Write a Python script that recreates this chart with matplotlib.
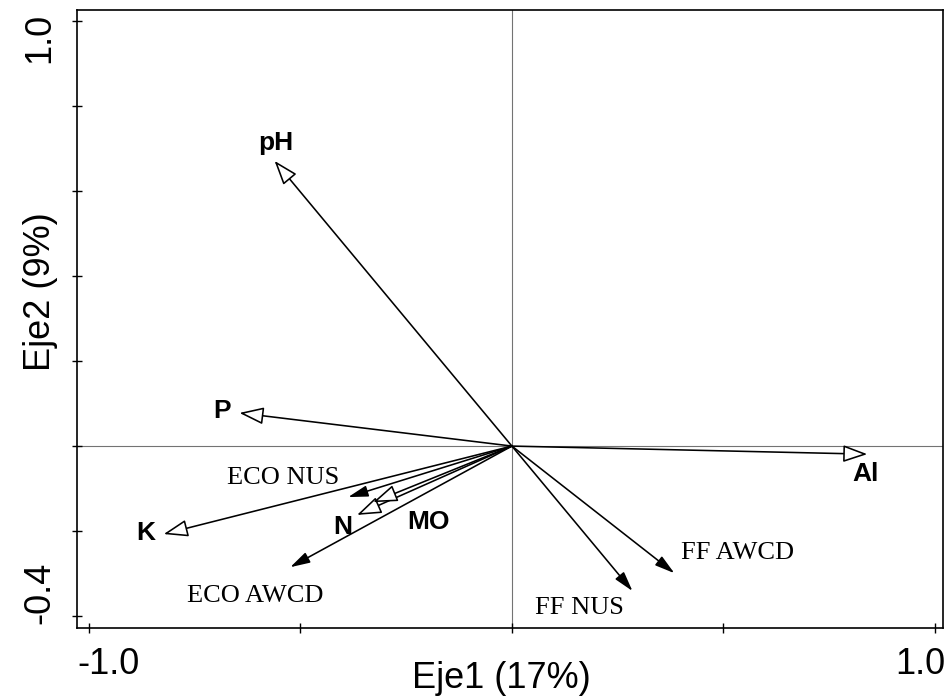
import matplotlib
matplotlib.use("Agg")
import matplotlib.pyplot as plt
from matplotlib.transforms import ScaledTranslation

# environmental variables (hollow heads)
env_names = ['pH', 'P', 'K', 'N', 'MO', 'Al']
env_x = [-0.561, -0.644, -0.823, -0.366, -0.328, 0.840]
env_y = [0.671, 0.078, -0.207, -0.162, -0.132, -0.019]

# response variables (filled heads)
resp_names = ['ECO NUS', 'ECO AWCD', 'FF AWCD', 'FF NUS']
resp_x = [-0.387, -0.524, 0.384, 0.285]
resp_y = [-0.120, -0.285, -0.299, -0.341]

x_ticks = [-1.0, -0.5, 0.0, 0.5, 1.0]
x_ticklabels = ['-1.0', '', '', '', '1.0']
y_ticks = [-0.4, -0.2, 0.0, 0.2, 0.4, 0.6, 0.8, 1.0]
y_ticklabels = ['-0.4', '', '', '', '', '', '', '1.0']

# label offsets from the arrow tip, in pixels
env_offsets = {'pH': (1, 18), 'P': (-17, 2), 'K': (-18, 1), 'N': (-14, -12),
               'MO': (55, -20), 'Al': (-2, -20)}
resp_offsets = {'ECO NUS': (-65, 19), 'ECO AWCD': (-35, -29),
                'FF AWCD': (63, 20), 'FF NUS': (-53, -17)}

SANS = 'Liberation Sans'
SERIF = 'Liberation Serif'
plt.rcParams['font.family'] = SANS

fig = plt.figure(figsize=(9.51, 6.97), dpi=100)
ax = fig.add_axes([77 / 951, 1 - 628 / 697, 866 / 951, 618 / 697])
ax.set_xlim(-1.028, 1.019)
ax.set_ylim(-0.428, 1.026)

ax.axhline(0, color='0.45', lw=0.8, zorder=1)
ax.axvline(0, color='0.45', lw=0.8, zorder=1)

for name, x, y in zip(env_names, env_x, env_y):
    ax.annotate('', xy=(x, y), xytext=(0, 0),
                arrowprops=dict(arrowstyle='-|>,head_length=15,head_width=5.3',
                                mutation_scale=1, shrinkA=0, shrinkB=0,
                                lw=1.15, edgecolor='black', facecolor='white'),
                zorder=3)
    ax.annotate(name, xy=(x, y), xytext=env_offsets[name],
                textcoords='offset pixels', ha='center', va='center',
                fontsize=19, fontweight='bold', family=SANS, zorder=4)

for name, x, y in zip(resp_names, resp_x, resp_y):
    ax.annotate('', xy=(x, y), xytext=(0, 0),
                arrowprops=dict(arrowstyle='-|>,head_length=12,head_width=3.4',
                                mutation_scale=1, shrinkA=0, shrinkB=0,
                                lw=1.15, edgecolor='black', facecolor='black'),
                zorder=3)
    ax.annotate(name, xy=(x, y), xytext=resp_offsets[name],
                textcoords='offset pixels', ha='center', va='center',
                fontsize=19, family=SERIF, zorder=4)

ax.set_xticks(x_ticks, x_ticklabels)
ax.set_yticks(y_ticks, y_ticklabels)
ax.tick_params(direction='inout', length=7.2, width=1.0, labelsize=26)
ax.tick_params(axis='x', pad=10)
ax.tick_params(axis='y', pad=10.8)

for s in ax.spines.values():
    s.set_linewidth(1.2)

xl = ax.get_xticklabels()
xl[0].set_ha('left')
xl[0].set_transform(xl[0].get_transform() + ScaledTranslation(-11 / 100, 0, fig.dpi_scale_trans))
xl[-1].set_ha('right')
xl[-1].set_transform(xl[-1].get_transform() + ScaledTranslation(10 / 100, 0, fig.dpi_scale_trans))

yl = ax.get_yticklabels()
for lab in yl:
    lab.set_rotation(90)
yl[-1].set_va('top')
yl[-1].set_transform(yl[-1].get_transform() + ScaledTranslation(0, 8 / 100, fig.dpi_scale_trans))
yl[0].set_va('bottom')
yl[0].set_transform(yl[0].get_transform() + ScaledTranslation(0, -8 / 100, fig.dpi_scale_trans))

ax.set_xlabel('Eje1 (17%)', fontsize=26)
ax.set_ylabel('Eje2 (9%)', fontsize=26)
ax.xaxis.set_label_coords(0.49, -0.053)
ax.yaxis.set_label_coords(-0.022, 0.545)

fig.savefig('out.png', dpi=100)
